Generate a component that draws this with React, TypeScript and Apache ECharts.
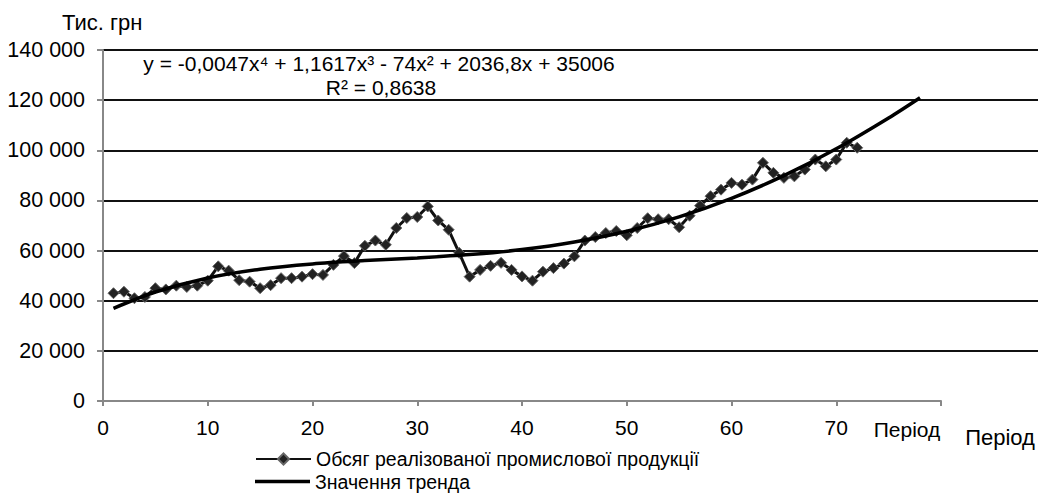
import React, { useEffect, useRef } from "react";
import * as echarts from "echarts";

const periods: number[] = Array.from({ length: 72 }, (_, i) => i + 1);
const salesValues: number[] = [
  43000, 43600, 41000, 41500, 45000, 44500, 46000, 45500, 46000, 48000,
  53700, 52000, 48200, 47600, 45000, 46200, 49000, 49000, 49600, 50600,
  50300, 54300, 57800, 55000, 61900, 64000, 62300, 69000, 73000, 73400,
  77600, 72000, 68300, 59100, 49600, 52300, 53900, 55100, 52300, 49700,
  48000, 51600, 53000, 54800, 57700, 64000, 65400, 67000, 67800, 66100,
  69000, 72900, 72500, 72500, 69300, 73900, 77900, 81700, 84300, 87000,
  86300, 88300, 95000, 91000, 89000, 89600, 92300, 96300, 93600, 96300,
  103000, 101000,
];
const trendPeriods: number[] = [1, 5, 10, 15, 20, 25, 30, 35, 40, 45, 50, 55, 60, 65, 70, 75, 78];
const trendValues: number[] = [
  36970, 43482, 49089, 52591, 54684, 55992, 57069, 58399, 60395, 63398,
  67684, 73450, 80829, 89882, 100598, 112897, 120976,
];
const yTicks: number[] = [0, 20000, 40000, 60000, 80000, 100000, 120000, 140000];
const seriesNames: string[] = ["Обсяг реалізованої промислової продукції", "Значення тренда"];
const equationText = "y = -0,0047x⁴ + 1,1617x³ - 74x² + 2036,8x + 35006";
const r2Text = "R² = 0,8638";
const yUnit = "Тис. грн";
const xName = "Період";

const FONT = "'Liberation Sans', Arial, sans-serif";

function fmt(v: number): string {
  if (v === 0) return "0";
  const s = String(v);
  return s.slice(0, s.length - 3) + " " + s.slice(s.length - 3);
}

export default function App() {
  const ref = useRef<HTMLDivElement>(null);
  useEffect(() => {
    if (!ref.current) return;
    const chart = echarts.init(ref.current, undefined, { renderer: "svg" });
    const legendText = { color: "#000", fontSize: 19.5, fontFamily: FONT, lineHeight: 20 };
    chart.setOption({
      animation: false,
      backgroundColor: "#ffffff",
      textStyle: { fontFamily: FONT },
      grid: [
        { left: 103, right: 97, top: 50, bottom: 92 },
        { left: 103, right: 0, top: 50, bottom: 142.14 },
      ],
      xAxis: [
        {
          type: "value",
          gridIndex: 0,
          min: 0,
          max: 80,
          interval: 10,
          axisLine: { show: true, lineStyle: { color: "#888", width: 2 } },
          axisTick: { show: true, inside: false, length: 5, lineStyle: { color: "#888", width: 2 } },
          splitLine: { show: false },
          axisLabel: {
            color: "#000",
            fontSize: 21,
            fontFamily: FONT,
            margin: 16,
            formatter: (v: number) => (v === 80 ? "" : String(v)),
          },
        },
        {
          type: "value",
          gridIndex: 1,
          min: 0,
          max: 1,
          show: false,
        },
      ],
      yAxis: [
        {
          type: "value",
          gridIndex: 0,
          min: 0,
          max: 140000,
          interval: 20000,
          axisLine: { show: true, lineStyle: { color: "#888", width: 2 } },
          axisTick: { show: true, inside: false, length: 6, lineStyle: { color: "#888", width: 2 } },
          splitLine: { show: false },
          axisLabel: {
            color: "#000",
            fontSize: 21.5,
            fontFamily: FONT,
            margin: 18,
            formatter: (v: number) => (yTicks.indexOf(v) >= 0 ? fmt(v) : ""),
          },
        },
        {
          type: "value",
          gridIndex: 1,
          min: 20000,
          max: 140000,
          interval: 20000,
          axisLine: { show: false },
          axisTick: { show: false },
          axisLabel: { show: false },
          splitLine: { show: true, lineStyle: { color: "#111", width: 1.8 } },
        },
      ],
      legend: [
        {
          orient: "vertical",
          left: 255,
          top: 449,
          padding: 0,
          itemWidth: 55,
          itemHeight: 14,
          textStyle: legendText,
          data: [seriesNames[0]],
        },
        {
          orient: "vertical",
          left: 255,
          top: 471.5,
          padding: 0,
          itemWidth: 55,
          itemHeight: 3.5,
          textStyle: legendText,
          data: [{ name: seriesNames[1], icon: "rect" }],
        },
      ],
      series: [
        {
          name: seriesNames[0],
          type: "line",
          xAxisIndex: 0,
          yAxisIndex: 0,
          data: periods.map((p, i) => [p, salesValues[i]]),
          symbol: "diamond",
          symbolSize: 11,
          lineStyle: { color: "#111", width: 3 },
          itemStyle: { color: "#222", borderColor: "#666", borderWidth: 1 },
          z: 3,
        },
        {
          name: seriesNames[1],
          type: "line",
          xAxisIndex: 0,
          yAxisIndex: 0,
          data: trendPeriods.map((p, i) => [p, trendValues[i]]),
          symbol: "none",
          smooth: 0.3,
          lineStyle: { color: "#000", width: 3.5 },
          itemStyle: { color: "#000" },
          z: 4,
        },
      ],
      graphic: [
        {
          type: "text",
          left: 62,
          top: 11,
          style: { text: yUnit, fill: "#000", font: `22px ${FONT}` },
        },
        {
          type: "text",
          x: 379,
          y: 63,
          style: { text: equationText, fill: "#000", font: `21px ${FONT}`, textAlign: "center", textVerticalAlign: "middle" },
        },
        {
          type: "text",
          x: 381,
          y: 87,
          style: { text: r2Text, fill: "#000", font: `21px ${FONT}`, textAlign: "center", textVerticalAlign: "middle" },
        },
        {
          type: "text",
          x: 907,
          y: 429,
          style: { text: xName, fill: "#000", font: `21px ${FONT}`, textAlign: "center", textVerticalAlign: "middle" },
        },
        {
          type: "text",
          x: 1000,
          y: 437,
          style: { text: xName, fill: "#000", font: `22px ${FONT}`, textAlign: "center", textVerticalAlign: "middle" },
        },
      ],
    });
    return () => chart.dispose();
  }, []);
  return <div ref={ref} style={{ position: "absolute", left: 0, top: 0, width: 1038, height: 493 }} />;
}
